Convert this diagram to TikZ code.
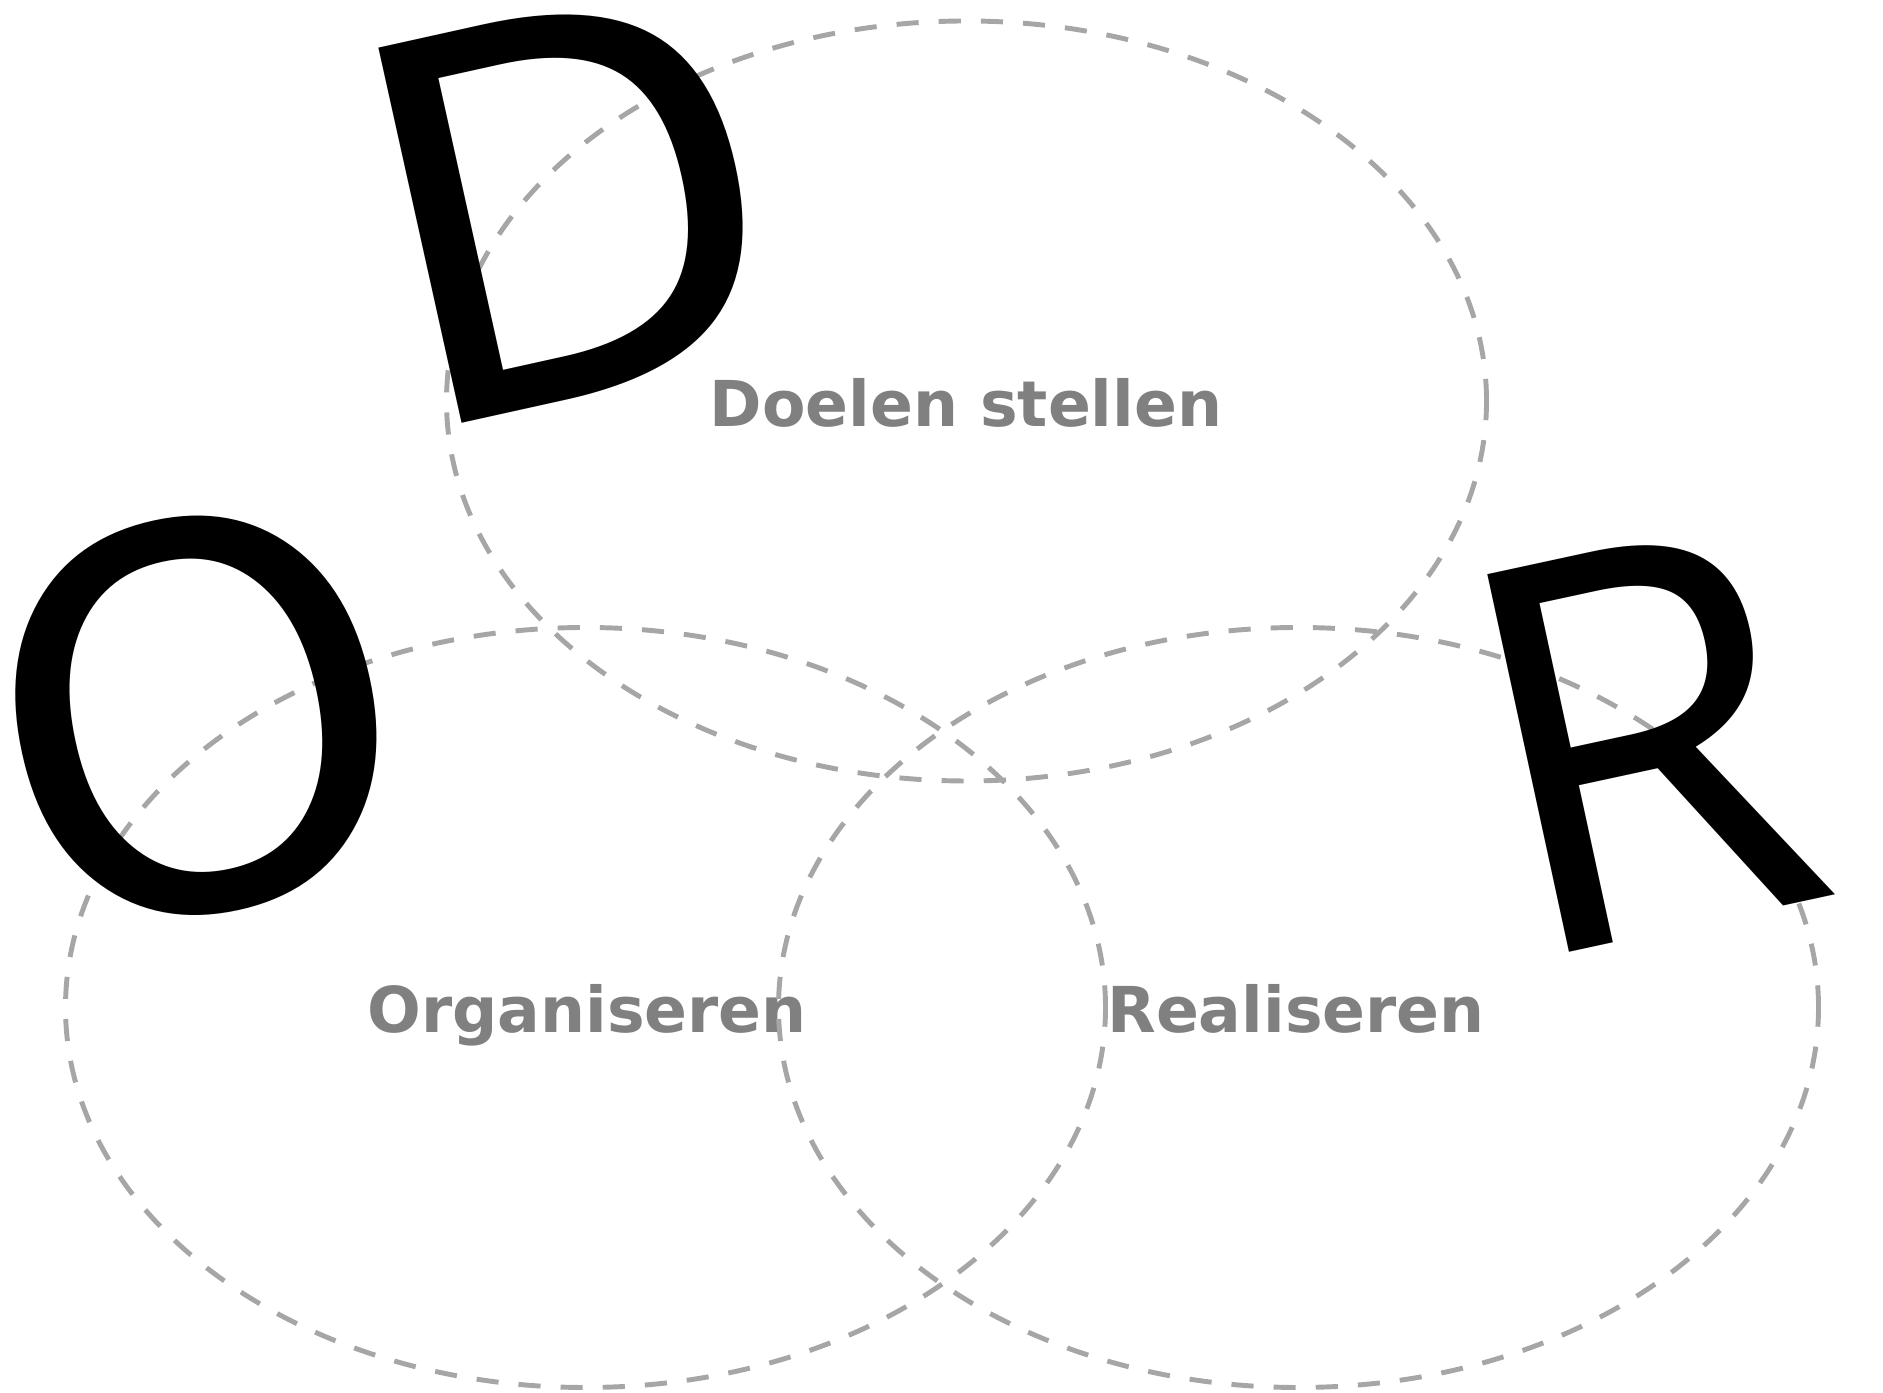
\documentclass[tikz,border=0pt]{standalone}
\usepackage{fontspec}
\setmainfont{DejaVu Sans}
\newfontfamily\rfont{Open Sans}
\usetikzlibrary{shapes.geometric}

\begin{document}
\begin{tikzpicture}[
  ring/.style={ellipse,draw=black!35,line width=1.4pt,dash pattern=on 6.3pt off 5.7pt,
    minimum width=10.4cm,minimum height=7.6cm,inner sep=0pt},
  lab/.style={font=\fontsize{18}{18}\selectfont\bfseries,text=black!50,anchor=base,inner sep=0pt},
  big/.style={font=\fontsize{150}{150}\selectfont,inner sep=0pt}]
\useasboundingbox (0,0) rectangle (18.83,13.92);
% ---- labels
\node[lab] (tdoel) at (9.66,9.65) {Doelen stellen};
\node[lab] (torg) at (5.87,3.59) {Organiseren};
\node[lab] (treal) at (12.96,3.59) {Realiseren};
% ---- circles
\node[ring] (doel) at (9.665,9.91) {};
\node[ring] (org) at (5.855,3.845) {};
\node[ring] (real) at (12.985,3.845) {};
% ---- letters
\node[big,anchor=base west,rotate=12.5] (D) at (4.11,9.57) {D};
\node[big,rotate=12.3] (O) at (1.96,6.76) {O};
\node[big,anchor=base west,rotate=12.2,font=\fontsize{154}{154}\rfont] (R) at (15.17,4.28) {R};
\end{tikzpicture}
\end{document}
